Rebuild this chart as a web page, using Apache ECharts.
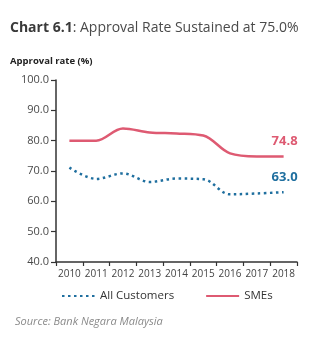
<!DOCTYPE html>
<html><head><meta charset="utf-8">
<script src="https://cdn.jsdelivr.net/npm/echarts@6/dist/echarts.min.js"></script>
<style>html,body{margin:0;padding:0;background:#fff}#c{width:332px;height:344px}</style>
</head><body><div id="c"></div>
<script>
const years = ['2010','2011','2012','2013','2014','2015','2016','2017','2018'];
const allCustomers = [71.1, 67.4, 69.2, 66.4, 67.5, 67.3, 62.3, 62.6, 63.0];
const smes = [80.0, 80.0, 84.0, 82.7, 82.4, 81.7, 75.8, 74.8, 74.8];
const yTicks = [40, 50, 60, 70, 80, 90, 100];

const FONT = '"Open Sans", sans-serif';
const BLUE = '#1f6f9f';
const PINK = '#de5a72';

function endLabel(color) {
  return { show: true, color: color, fontWeight: 'bold', fontSize: 13, fontFamily: FONT,
    distance: 0, offset: [-12, -15],
    formatter: (p) => Number(p.value).toFixed(1) };
}

const chart = echarts.init(document.getElementById('c'), null, {renderer: 'canvas'});
chart.setOption({
  animation: false,
  title: [{
    left: 10, top: 21, padding: 0,
    text: '{b|Chart 6.1}{n|: Approval Rate Sustained at 75.0%}',
    textStyle: { rich: {
      b: { fontWeight: 'bold', fontSize: 14, color: '#3a3a3a', fontFamily: FONT },
      n: { fontWeight: 'normal', fontSize: 14, color: '#4a4a4a', fontFamily: FONT }
    }}
  }, {
    left: 10, top: 56, padding: 0, text: 'Approval rate (%)',
    textStyle: { fontWeight: 'bold', fontSize: 9.5, color: '#222', fontFamily: FONT }
  }, {
    left: 15, top: 316, padding: 0, text: 'Source: Bank Negara Malaysia',
    textStyle: { fontStyle: 'italic', fontWeight: 'normal', fontSize: 11, color: '#8a8a8a', fontFamily: FONT }
  }],
  legend: {
    bottom: 37, left: 56,
    itemWidth: 33, itemHeight: 10, itemGap: 31,
    itemStyle: { opacity: 0 },
    textStyle: { fontSize: 11.5, color: '#333', fontFamily: FONT },
    data: ['All Customers', 'SMEs']
  },
  grid: { left: 56, right: 35, top: 80, bottom: 82 },
  xAxis: {
    type: 'category', data: years, boundaryGap: true,
    axisLine: { lineStyle: { color: '#333', width: 1.5 } },
    axisTick: { show: true, length: 4, lineStyle: { color: '#333', width: 1.2 } },
    axisLabel: { color: '#444', fontSize: 10, fontFamily: FONT, margin: 7, interval: 0 }
  },
  yAxis: {
    type: 'value', min: 40, max: 100, interval: 10,
    axisLine: { show: true, lineStyle: { color: '#333', width: 1.5 } },
    axisTick: { show: true, length: 5, lineStyle: { color: '#333', width: 1.2 } },
    splitLine: { show: false },
    axisLabel: { color: '#4a4a4a', fontSize: 11, fontFamily: FONT, margin: 7,
      formatter: (v) => yTicks.includes(v) ? v.toFixed(1) : '' }
  },
  series: [{
    name: 'All Customers', type: 'line', smooth: 0.35, showSymbol: false, symbol: 'none',
    data: allCustomers,
    itemStyle: { color: BLUE },
    lineStyle: { color: BLUE, width: 2.5, type: [2.5, 3.5] },
    endLabel: endLabel(BLUE)
  }, {
    name: 'SMEs', type: 'line', smooth: 0.35, showSymbol: false, symbol: 'none',
    data: smes,
    itemStyle: { color: PINK },
    lineStyle: { color: PINK, width: 2.5 },
    endLabel: endLabel(PINK)
  }]
});
</script></body></html>
